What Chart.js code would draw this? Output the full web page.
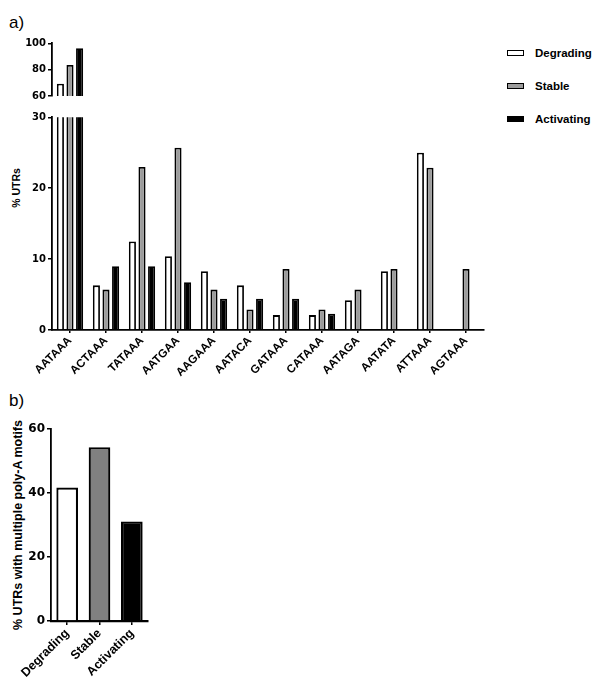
<!DOCTYPE html>
<html>
<head>
<meta charset="utf-8">
<script src="https://cdn.jsdelivr.net/npm/chart.js@4.4.1/dist/chart.umd.min.js"></script>
<style>
  html, body { margin:0; padding:0; background:#fff; }
  body { width:600px; height:694px; position:relative; overflow:hidden; font-family:"Liberation Sans", Arial, sans-serif; }
  canvas { position:absolute; left:0; }
  .lbl { position:absolute; color:#000; }
  .panel { font-size:17px; }
  .ytitle { position:absolute; font-weight:bold; white-space:nowrap; transform:translate(-50%,-50%) rotate(-90deg); }
  .leg { position:absolute; left:507px; font-weight:bold; font-size:11.5px; }
  .leg .box { position:absolute; left:0; width:15px; height:4px; border:1.8px solid #000; }
  .leg .txt { position:absolute; left:28px; white-space:nowrap; transform:translateY(-50%); }
</style>
</head>
<body>
<div class="lbl panel" style="left:9px;top:13px;">a)</div>
<div class="lbl panel" style="left:9px;top:391px;">b)</div>
<div class="ytitle" style="left:16px;top:188px;font-size:10.5px;">% UTRs</div>
<div class="ytitle" style="left:18px;top:525px;font-size:12.5px;">% UTRs with multiple poly-A motifs</div>
<div id="legend"></div>
<canvas id="cUpper" width="600" height="110" style="top:0;width:600px;height:110px;"></canvas>
<canvas id="cLower" width="600" height="280" style="top:100px;width:600px;height:280px;"></canvas>
<canvas id="cB" width="600" height="294" style="top:400px;width:600px;height:294px;"></canvas>
<script>
// ---- Data (panel a) ----
const motifs = ["AATAAA","ACTAAA","TATAAA","AATGAA","AAGAAA","AATACA","GATAAA","CATAAA","AATAGA","AATATA","ATTAAA","AGTAAA"];
const degrading  = [69.3, 6.3, 12.5, 10.4, 8.3, 6.3, 2.1, 2.1, 4.2, 8.3, 25.0, null];
const stable     = [83.5, 5.7, 23.0, 25.7, 5.7, 2.9, 8.6, 2.9, 5.7, 8.6, 22.9, 8.6];
const activating = [96.2, 9.0, 9.0, 6.75, 4.4, 4.4, 4.4, 2.3, null, null, null, null];
const seriesNames = ["Degrading","Stable","Activating"];
const lowerTicks = [0, 10, 20, 30];
const upperTicks = [60, 80, 100];
// ---- Data (panel b) ----
const groupsB = ["Degrading","Stable","Activating"];
const multiMotif = [41.7, 54.3, 31.1];
const bTicks = [0, 20, 40, 60];

const fillA = ["#ffffff", "#9c9c9c", "#000000"];
const fillB = ["#ffffff", "#808080", "#000000"];
const tickFontA = { family:"DejaVu Sans", weight:"bold", size:10 };
const tickFontB = { family:"DejaVu Sans", weight:"bold", size:12 };

// legend
const leg = document.getElementById('legend');
const legY = [53, 86, 119];
seriesNames.forEach((n,i)=>{
  const d = document.createElement('div');
  d.className = 'leg';
  d.style.top = legY[i] + 'px';
  d.innerHTML = '<div class="box" style="top:-3px;background:'+fillA[i]+'"></div><div class="txt">'+n+'</div>';
  leg.appendChild(d);
});

const upperCut = 30;
const upperOf = arr => arr.map(v => (v !== null && v > upperCut) ? v : null);
const seriesA = [degrading, stable, activating];

function datasetsA(upper){
  return seriesA.map((arr,i)=>({
    label: seriesNames[i],
    data: upper ? upperOf(arr) : arr,
    backgroundColor: fillA[i],
    borderColor: "#000",
    borderWidth: 1.8,
    categoryPercentage: 0.8,
    barPercentage: 0.74,
    clip: 0
  }));
}

function yAxis(min, max, ticksArr, font, width){
  return {
    min, max,
    afterBuildTicks: s => { s.ticks = ticksArr.map(v=>({value:v})); },
    afterFit: s => { s.width = width; },
    ticks: { color:"#000", font, padding: 2 },
    grid: { display:true, drawOnChartArea:false, drawTicks:true, tickLength:4, color:"#000", lineWidth:1.5 },
    border: { display:true, color:"#000", width:1.8 }
  };
}

const common = {
  responsive:false, animation:false, events:[],
  plugins:{ legend:{display:false}, tooltip:{enabled:false}, title:{display:false} }
};

new Chart(document.getElementById('cUpper'), {
  type:'bar',
  data:{ labels: motifs, datasets: datasetsA(true) },
  options: Object.assign({}, common, {
    layout:{ padding:{ top:43.3, right:116, bottom:14, left:0 } },
    scales:{
      x:{ display:false, grid:{offset:false} },
      y: yAxis(60, 100, upperTicks, tickFontA, 52)
    }
  })
});

new Chart(document.getElementById('cLower'), {
  type:'bar',
  data:{ labels: motifs, datasets: datasetsA(false) },
  options: Object.assign({}, common, {
    layout:{ padding:{ top:17.3, right:116, bottom:0, left:0 } },
    scales:{
      x:{
        afterFit: s => { s.height = 50; },
        ticks:{ color:"#000", font:{family:"Liberation Sans", weight:"bold", size:11.5}, minRotation:45, maxRotation:45, padding:1, autoSkip:false },
        grid:{ display:true, offset:false, drawOnChartArea:false, drawTicks:true, tickLength:3, color:"#000", lineWidth:1.5 },
        border:{ display:true, color:"#000", width:1.8 }
      },
      y: yAxis(0, 30, lowerTicks, tickFontA, 52)
    }
  })
});

new Chart(document.getElementById('cB'), {
  type:'bar',
  data:{ labels: groupsB, datasets:[{
    label:"% UTRs with multiple poly-A motifs",
    data: multiMotif,
    backgroundColor: fillB,
    borderColor:"#000",
    borderWidth: 2.2,
    categoryPercentage: 1.0,
    barPercentage: 0.67
  }]},
  options: Object.assign({}, common, {
    layout:{ padding:{ top:29, right:452, bottom:0, left:0 } },
    scales:{
      x:{
        afterFit: s => { s.height = 73; },
        ticks:{ color:"#000", font:{family:"Liberation Sans", weight:"bold", size:12.5}, minRotation:45, maxRotation:45, padding:1, autoSkip:false },
        grid:{ display:true, offset:false, drawOnChartArea:false, drawTicks:true, tickLength:4, color:"#000", lineWidth:1.5 },
        border:{ display:true, color:"#000", width:2.2 }
      },
      y: yAxis(0, 60, bTicks, tickFontB, 51)
    }
  })
});
</script>
</body>
</html>
